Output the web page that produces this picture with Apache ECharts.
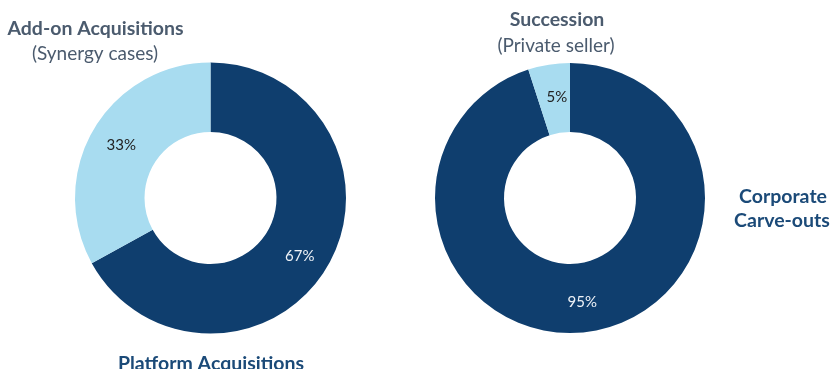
<!DOCTYPE html>
<html>
<head>
<meta charset="utf-8">
<script src="https://cdn.jsdelivr.net/npm/echarts@6/dist/echarts.min.js"></script>
<style>html,body{margin:0;padding:0;background:#fff}#c{width:831px;height:369px}</style>
</head>
<body>
<div id="c"></div>
<script>
const leftNames = ['Platform Acquisitions', 'Add-on Acquisitions'];
const leftValues = [67, 33];
const rightNames = ['Corporate Carve-outs', 'Succession'];
const rightValues = [95, 5];

const DARK = '#0f3e6e';
const LIGHT = '#a8dcf0';
const FONT = 'Lato, "Open Sans", sans-serif';
const GREY = '#4b5b6e';
const NAVY = '#1b4a78';

function pieData(names, values, extra) {
  return names.map((n, i) => Object.assign({
    name: n, value: values[i],
    itemStyle: { color: i === 0 ? DARK : LIGHT },
    label: { color: i === 0 ? '#eef2f7' : '#222' }
  }, extra[i] || {}));
}

const chart = echarts.init(document.getElementById('c'), null, { renderer: 'canvas' });
const commonLabel = { show: true, position: 'inside', formatter: '{c}%', fontFamily: FONT, fontSize: 15 };
chart.setOption({
  animation: false,
  series: [
    {
      type: 'pie', center: [210.5, 198], radius: [66, 135.5], startAngle: 90, clockwise: true,
      label: commonLabel, labelLine: { show: false }, silent: true,
      data: pieData(leftNames, leftValues, [{ label: { color: '#eef2f7', offset: [0, 5] } }, {}])
    },
    {
      type: 'pie', center: [570, 198], radius: [66, 135], startAngle: 90, clockwise: true,
      label: commonLabel, labelLine: { show: false }, silent: true,
      data: pieData(rightNames, rightValues, [{ label: { color: '#eef2f7', offset: [-4, 2] } }, { label: { color: '#222', offset: [3, 1] } }])
    }
  ],
  graphic: [
    { type: 'text', x: 95.5, y: 29, style: { text: 'Add-on Acquisitions', fill: GREY, font: 'bold 19.5px ' + FONT, textAlign: 'center', textVerticalAlign: 'middle' } },
    { type: 'text', x: 95, y: 54, style: { text: '(Synergy cases)', fill: GREY, font: '19px ' + FONT, textAlign: 'center', textVerticalAlign: 'middle' } },
    { type: 'text', x: 557, y: 20, style: { text: 'Succession', fill: GREY, font: 'bold 19.5px ' + FONT, textAlign: 'center', textVerticalAlign: 'middle' } },
    { type: 'text', x: 556, y: 46, style: { text: '(Private seller)', fill: GREY, font: '19px ' + FONT, textAlign: 'center', textVerticalAlign: 'middle' } },
    { type: 'text', x: 783, y: 197, style: { text: 'Corporate', fill: NAVY, font: 'bold 19.5px ' + FONT, textAlign: 'center', textVerticalAlign: 'middle' } },
    { type: 'text', x: 782, y: 221, style: { text: 'Carve-outs', fill: NAVY, font: 'bold 19.5px ' + FONT, textAlign: 'center', textVerticalAlign: 'middle' } },
    { type: 'text', x: 211, y: 364, style: { text: 'Platform Acquisitions', fill: NAVY, font: 'bold 19.5px ' + FONT, textAlign: 'center', textVerticalAlign: 'middle' } }
  ]
});
</script>
</body>
</html>
